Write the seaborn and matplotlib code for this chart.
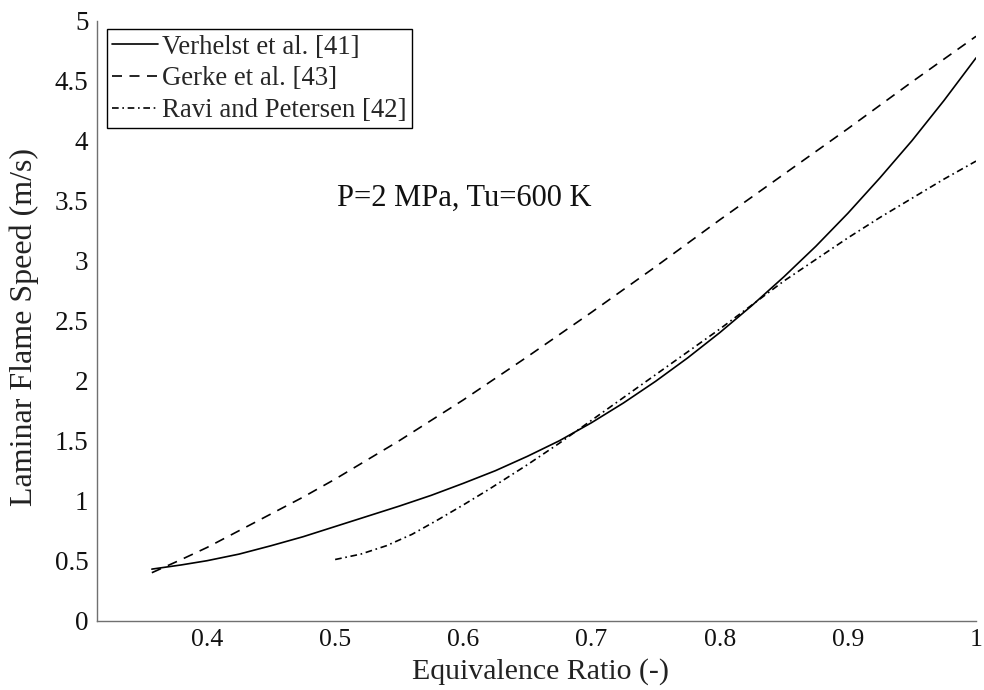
import matplotlib
matplotlib.use("Agg")
import matplotlib.pyplot as plt
import seaborn as sns
import pandas as pd
from matplotlib.ticker import FuncFormatter

# ---- data ----
verhelst_phi = [0.357, 0.38, 0.40, 0.425, 0.45, 0.475, 0.50, 0.525, 0.55, 0.575, 0.60, 0.625, 0.65,
                0.675, 0.70, 0.725, 0.75, 0.775, 0.80, 0.825, 0.85, 0.875, 0.90, 0.925, 0.95, 0.975, 1.00]
verhelst_sl = [0.43, 0.465, 0.50, 0.555, 0.625, 0.70, 0.785, 0.87, 0.955, 1.045, 1.145, 1.25, 1.37,
               1.50, 1.65, 1.815, 1.995, 2.19, 2.40, 2.625, 2.865, 3.12, 3.395, 3.69, 4.00, 4.335, 4.69]

gerke_phi = [0.357, 0.38, 0.40, 0.425, 0.45, 0.475, 0.50, 0.55, 0.60, 0.65, 0.70, 0.75, 0.80,
             0.85, 0.90, 0.95, 1.00]
gerke_sl = [0.40, 0.51, 0.61, 0.75, 0.89, 1.03, 1.18, 1.50, 1.84, 2.20, 2.57, 2.95, 3.34,
            3.72, 4.10, 4.49, 4.87]

ravi_phi = [0.50, 0.52, 0.54, 0.56, 0.58, 0.60, 0.62, 0.65, 0.675, 0.70, 0.725, 0.75, 0.775,
            0.80, 0.825, 0.85, 0.875, 0.90, 0.925, 0.95, 0.975, 1.00]
ravi_sl = [0.51, 0.555, 0.625, 0.72, 0.84, 0.965, 1.095, 1.30, 1.48, 1.67, 1.86, 2.05, 2.24,
           2.43, 2.63, 2.83, 3.01, 3.19, 3.36, 3.52, 3.68, 3.83]

labels = ["Verhelst et al. [41]", "Gerke et al. [43]", "Ravi and Petersen [42]"]
annotation = "P=2 MPa, Tu=600 K"
x_label = "Equivalence Ratio (-)"
y_label = "Laminar Flame Speed (m/s)"
x_ticks = [0.4, 0.5, 0.6, 0.7, 0.8, 0.9, 1.0]
y_ticks = [0, 0.5, 1, 1.5, 2, 2.5, 3, 3.5, 4, 4.5, 5]

sns.set_theme(style="white")
plt.rcParams["font.family"] = ["Liberation Serif", "DejaVu Serif"]

fig = plt.figure(figsize=(9.84, 6.90), dpi=100)
ax = fig.add_axes([0.0983, 0.1004, 0.9919 - 0.0983, 0.970 - 0.1004])

styles = ["-", (0, (6, 4.5)), (0, (4, 2.2, 1, 2.2))]
series = [(verhelst_phi, verhelst_sl), (gerke_phi, gerke_sl), (ravi_phi, ravi_sl)]
for (xs, ys), lab, ls in zip(series, labels, styles):
    df = pd.DataFrame({"phi": xs, "sl": ys})
    sns.lineplot(data=df, x="phi", y="sl", ax=ax, color="black", linewidth=1.2,
                 linestyle=ls, label=lab, sort=True, estimator=None)

ax.set_xlim(0.314, 1.0)
ax.set_ylim(0, 5)
ax.set_xticks(x_ticks)
ax.set_yticks(y_ticks)
ax.xaxis.set_major_formatter(FuncFormatter(lambda v, p: f"{v:g}"))
ax.yaxis.set_major_formatter(FuncFormatter(lambda v, p: f"{v:g}"))

for s in ["top", "right"]:
    ax.spines[s].set_visible(False)
for s in ["left", "bottom"]:
    ax.spines[s].set_color("#707070")
    ax.spines[s].set_linewidth(1.0)

ax.tick_params(axis="both", direction="in", length=4, width=0.9, color="#707070",
               labelcolor="#111111")
ax.tick_params(axis="y", pad=6, labelsize=19.5)
ax.tick_params(axis="x", pad=6.3, labelsize=18.5)

ax.set_xlabel(x_label, fontsize=21.5, color="#222222")
ax.set_ylabel(y_label, fontsize=23, color="#222222")
ax.xaxis.set_label_coords(0.505, -0.0625)
ax.yaxis.set_label_coords(-0.066, 0.49)

ax.text(0.601, 3.52, annotation, fontsize=22, ha="center", va="center", color="#111111")

leg = ax.legend(loc="upper left", bbox_to_anchor=(0.0114, 0.9857), fontsize=19.3,
                frameon=True, fancybox=False, shadow=False, handlelength=1.7,
                handletextpad=0.16, borderpad=0.2, labelspacing=0.25, borderaxespad=0.0)
leg.get_frame().set_edgecolor("black")
leg.get_frame().set_linewidth(1.0)
leg.get_frame().set_alpha(1.0)

fig.savefig("out.png", dpi=100)
